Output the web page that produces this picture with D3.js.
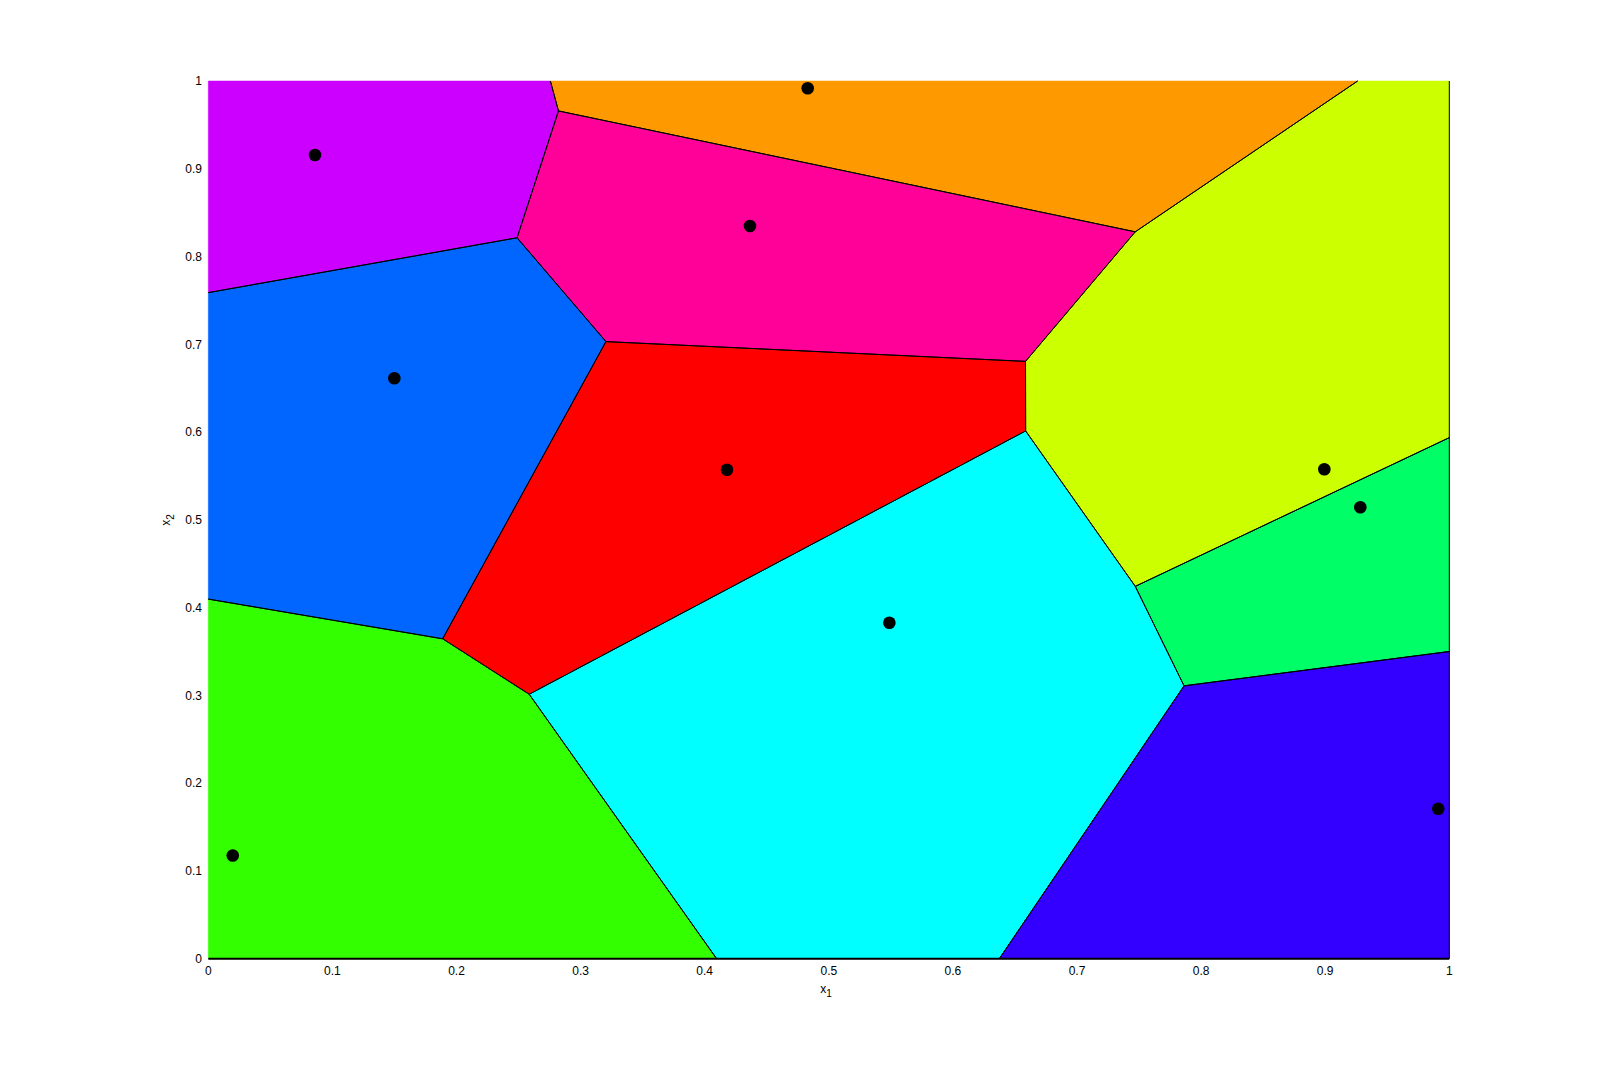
<!DOCTYPE html>
<html>
<head>
<meta charset="utf-8">
<script src="https://cdn.jsdelivr.net/npm/d3@7"></script>
<style>
  html, body { margin: 0; padding: 0; background: #fff; }
  svg { display: block; }
  text { font-family: "Liberation Sans", Arial, sans-serif; font-size: 12px; fill: #000; }
</style>
</head>
<body>
<svg id="chart" width="1601" height="1077"></svg>
<script>
// Seed points (x1, x2) and their cell colours
const pointX = [0.0860, 0.4830, 0.4365, 0.1499, 0.4180, 0.8993, 0.9283, 0.5488, 0.0197, 0.9911];
const pointY = [0.9157, 0.9917, 0.8348, 0.6613, 0.5571, 0.5576, 0.5143, 0.3827, 0.1175, 0.1709];
const cellColors = ["#CC00FF", "#FF9900", "#FF0099", "#0066FF", "#FF0000",
                    "#CCFF00", "#00FF66", "#00FFFF", "#33FF00", "#3300FF"];
const xTicks = [0, 0.1, 0.2, 0.3, 0.4, 0.5, 0.6, 0.7, 0.8, 0.9, 1];
const yTicks = [0, 0.1, 0.2, 0.3, 0.4, 0.5, 0.6, 0.7, 0.8, 0.9, 1];
const xTickLabels = ["0", "0.1", "0.2", "0.3", "0.4", "0.5", "0.6", "0.7", "0.8", "0.9", "1"];
const yTickLabels = ["0", "0.1", "0.2", "0.3", "0.4", "0.5", "0.6", "0.7", "0.8", "0.9", "1"];

(function () {
const svg = d3.select("#chart");
const pL = 208.3, pR = 1449.3, pT = 81, pB = 958.7;
const x = d3.scaleLinear().domain([0, 1]).range([pL, pR]);
const y = d3.scaleLinear().domain([0, 1]).range([pB, pT]);

// Voronoi computed in data space
const dataPts = pointX.map((v, i) => [v, pointY[i]]);
const delaunay = d3.Delaunay.from(dataPts);
const voronoi = delaunay.voronoi([0, 0, 1, 1]);
const line = d3.line().x(d => x(d[0])).y(d => y(d[1]));

const polys = dataPts.map((d, i) => voronoi.cellPolygon(i));

// cells
svg.append("g").selectAll("path")
  .data(polys)
  .join("path")
  .attr("d", d => line(d) + "Z")
  .attr("fill", (d, i) => cellColors[i])
  .attr("stroke", (d, i) => cellColors[i])
  .attr("stroke-width", 0.5);

// interior edges (skip segments lying on the bounding box)
const eps = 1e-9;
const onSameBound = (a, b) =>
  (Math.abs(a[0]) < eps && Math.abs(b[0]) < eps) ||
  (Math.abs(a[0] - 1) < eps && Math.abs(b[0] - 1) < eps) ||
  (Math.abs(a[1]) < eps && Math.abs(b[1]) < eps) ||
  (Math.abs(a[1] - 1) < eps && Math.abs(b[1] - 1) < eps);
const segs = [];
polys.forEach(p => {
  for (let k = 0; k < p.length - 1; k++) {
    if (!onSameBound(p[k], p[k + 1])) segs.push([p[k], p[k + 1]]);
  }
});
svg.append("g").selectAll("path")
  .data(segs)
  .join("path")
  .attr("d", d => line(d))
  .attr("fill", "none")
  .attr("stroke", "#000")
  .attr("stroke-width", 1);

// axis lines (bottom and right)
svg.append("line").attr("x1", pL).attr("x2", pR).attr("y1", pB).attr("y2", pB)
  .attr("stroke", "#000").attr("stroke-width", 2);
svg.append("line").attr("x1", pR).attr("x2", pR).attr("y1", pT).attr("y2", pB)
  .attr("stroke", "#000").attr("stroke-width", 1);

// points
svg.append("g").selectAll("circle")
  .data(dataPts)
  .join("circle")
  .attr("cx", d => x(d[0]))
  .attr("cy", d => y(d[1]))
  .attr("r", 6.3)
  .attr("fill", "#000");

// tick labels
svg.append("g").selectAll("text")
  .data(xTicks)
  .join("text")
  .attr("x", d => x(d))
  .attr("y", 975)
  .attr("text-anchor", "middle")
  .text((d, i) => xTickLabels[i]);

svg.append("g").selectAll("text")
  .data(yTicks)
  .join("text")
  .attr("x", 202)
  .attr("y", d => y(d))
  .attr("dy", "0.35em")
  .attr("text-anchor", "end")
  .text((d, i) => yTickLabels[i]);

// axis labels
const xl = svg.append("text").attr("x", 826).attr("y", 993).attr("text-anchor", "middle");
xl.append("tspan").text("x");
xl.append("tspan").attr("dy", 4).attr("font-size", "10px").text("1");

const yl = svg.append("text").attr("transform", "translate(170,520) rotate(-90)").attr("text-anchor", "middle");
yl.append("tspan").text("x");
yl.append("tspan").attr("dy", 4).attr("font-size", "10px").text("2");
})();
</script>
</body>
</html>
